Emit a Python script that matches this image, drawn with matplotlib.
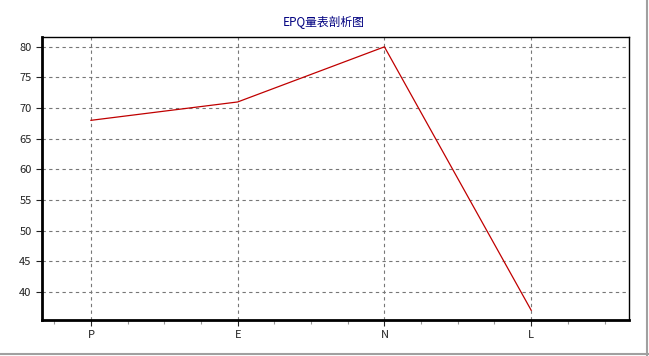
from matplotlib import pyplot as plt
from matplotlib.ticker import MultipleLocator
from matplotlib.lines import Line2D

plt.rcParams['font.family'] = ['Noto Sans CJK SC', 'DejaVu Sans']

categories = ['P', 'E', 'N', 'L']
scores = [68, 71, 80, 37]
y_ticks = [40, 45, 50, 55, 60, 65, 70, 75, 80]

fig = plt.figure(figsize=(6.49, 3.56), dpi=100)
ax = fig.add_axes([0.0647, 0.101, 0.9045, 0.795])

x = list(range(len(categories)))
ax.plot(x, scores, color='#c00000', linewidth=0.9)

ax.set_xlim(-1/3, 3 + 2/3)
ax.set_ylim(35.4, 81.6)
ax.set_xticks(x)
ax.set_xticklabels(categories)
ax.xaxis.set_minor_locator(MultipleLocator(0.25))
ax.set_yticks(y_ticks)

ax.grid(True, which='major', linestyle=(0, (3, 3)), color='#777777', linewidth=0.8)
ax.tick_params(axis='both', which='major', labelsize=8, colors='#222222', length=4, width=0.8)
ax.tick_params(axis='x', which='minor', length=3, width=0.8, color='#999999')

ax.spines['left'].set_linewidth(2)
ax.spines['bottom'].set_linewidth(2)
ax.spines['top'].set_linewidth(1)
ax.spines['right'].set_linewidth(1)

# title is centred on the whole window, not the plot area
fig.text(0.498, 0.938, 'EPQ量表剖析图', fontsize=8.5, color='#000080', ha='center', va='center')

# grey frame of the window on right and bottom
fig.add_artist(Line2D([0.9965, 0.9965], [0.0, 1.0], transform=fig.transFigure, color='#a0a0a0', linewidth=1.5))
fig.add_artist(Line2D([0.0, 1.0], [0.006, 0.006], transform=fig.transFigure, color='#a0a0a0', linewidth=1.5))

fig.savefig('out.png', dpi=100)
